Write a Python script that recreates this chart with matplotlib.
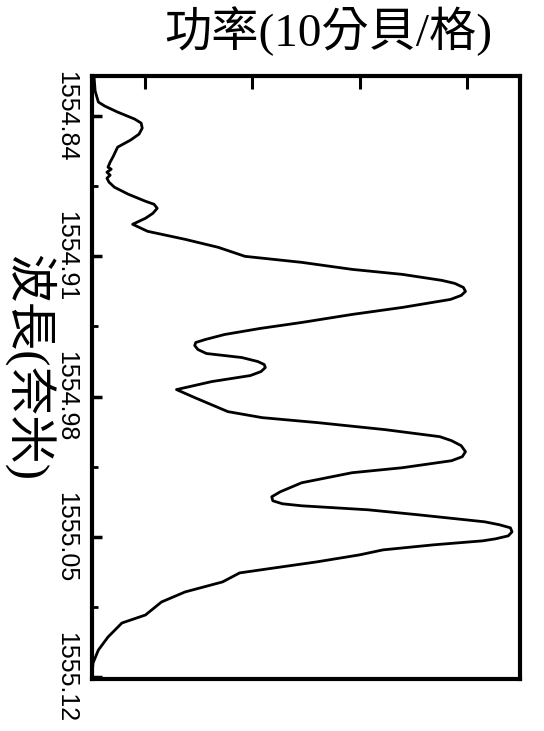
import matplotlib
matplotlib.use("Agg")
import matplotlib.pyplot as plt
from matplotlib.ticker import MultipleLocator

# spectrum: relative power (dB) vs wavelength (nm)
power_db = [-39.8, -39.7, -39.4, -38.8, -37.6, -36.0, -35.4, -35.3, -35.6, -36.4,
            -37.6, -38.0, -38.3, -38.5, -38.2, -38.6, -38.3, -38.6, -38.4, -37.9,
            -36.6, -35.0, -34.2, -33.9, -34.3, -35.0, -36.2, -34.8, -31.3, -28.2,
            -25.7, -20.4, -15.7, -11.0, -7.3, -6.1, -5.3, -5.1, -5.5, -6.5,
            -11.0, -15.7, -20.4, -24.3, -27.6, -29.4, -30.3, -30.4, -30.1, -29.3,
            -26.0, -24.5, -23.9, -23.8, -24.2, -25.2, -28.8, -32.1, -30.4, -27.3,
            -24.1, -18.9, -12.6, -7.5, -6.4, -5.5, -5.1, -5.4, -6.4, -11.0,
            -15.7, -20.4, -22.4, -23.2, -23.1, -22.2, -20.4, -14.2, -9.5, -3.3,
            -1.9, -0.9, -0.75, -1.1, -2.3, -3.5, -8.1, -12.8, -15.0, -19.0,
            -23.6, -26.2, -27.8, -31.3, -33.5, -35.0, -37.2, -38.5, -39.4, -39.9,
            -40.0]
wavelength_nm = [1554.8205, 1554.8275, 1554.833, 1554.835, 1554.838, 1554.8415, 1554.8435, 1554.846, 1554.849, 1554.852,
                 1554.8555, 1554.860, 1554.863, 1554.8655, 1554.8665, 1554.868, 1554.8695, 1554.871, 1554.873, 1554.8755,
                 1554.879, 1554.8825, 1554.884, 1554.886, 1554.8885, 1554.891, 1554.894, 1554.8975, 1554.9015, 1554.9055,
                 1554.910, 1554.913, 1554.9165, 1554.919, 1554.922, 1554.9235, 1554.9255, 1554.9275, 1554.9295, 1554.9315,
                 1554.9355, 1554.939, 1554.943, 1554.946, 1554.949, 1554.9515, 1554.953, 1554.9545, 1554.9565, 1554.9585,
                 1554.9605, 1554.9625, 1554.964, 1554.9655, 1554.9675, 1554.9695, 1554.9725, 1554.9765, 1554.9805, 1554.9875,
                 1554.9905, 1554.993, 1554.9965, 1555.000, 1555.002, 1555.0045, 1555.0075, 1555.010, 1555.012, 1555.0155,
                 1555.018, 1555.023, 1555.0275, 1555.030, 1555.032, 1555.0335, 1555.0345, 1555.0365, 1555.039, 1555.0425,
                 1555.044, 1555.0455, 1555.0475, 1555.0495, 1555.051, 1555.052, 1555.054, 1555.0565, 1555.059, 1555.0625,
                 1555.066, 1555.068, 1555.0725, 1555.0775, 1555.0825, 1555.089, 1555.093, 1555.100, 1555.1065, 1555.113,
                 1555.120]

wl_ticks = [1554.84, 1554.91, 1554.98, 1555.05, 1555.12]
wl_tick_labels = ["1554.84", "1554.91", "1554.98", "1555.05", "1555.12"]
power_ticks = [-35, -25, -15, -5]

cjk = ["Liberation Serif", "Noto Sans CJK TC", "DejaVu Sans"]

fig = plt.figure(figsize=(5.44, 7.31), dpi=100)
ax = fig.add_axes([0.169, 0.071, 0.787, 0.825])

ax.plot(power_db, wavelength_nm, color="black", lw=2,
        solid_joinstyle="round", solid_capstyle="round")

ax.set_xlim(-40, 0)
ax.set_ylim(1555.121, 1554.82)

for s in ax.spines.values():
    s.set_linewidth(3)

# power ticks on top, no labels
ax.xaxis.tick_top()
ax.set_xticks(power_ticks)
ax.tick_params(axis="x", which="both", direction="in", length=9, width=2.2,
               labeltop=False, labelbottom=False, bottom=False)

ax.set_yticks(wl_ticks)
ax.set_yticklabels(wl_tick_labels, rotation=-90, va="center",
                   family="Liberation Sans", fontsize=18)
ax.yaxis.set_minor_locator(MultipleLocator(0.035))
ax.tick_params(axis="y", which="major", direction="in", length=7, width=2.5, pad=10)
ax.tick_params(axis="y", which="minor", direction="in", length=4, width=2)
ax.tick_params(axis="y", right=False, which="both")

fig.text(0.603, 0.957, "功率(10分貝/格)", family=cjk, fontsize=34,
         ha="center", va="center")
fig.text(0.053, 0.497, "波長(奈米)", family=cjk, fontsize=35,
         rotation=-90, ha="center", va="center")

fig.savefig("out.png", dpi=100)
